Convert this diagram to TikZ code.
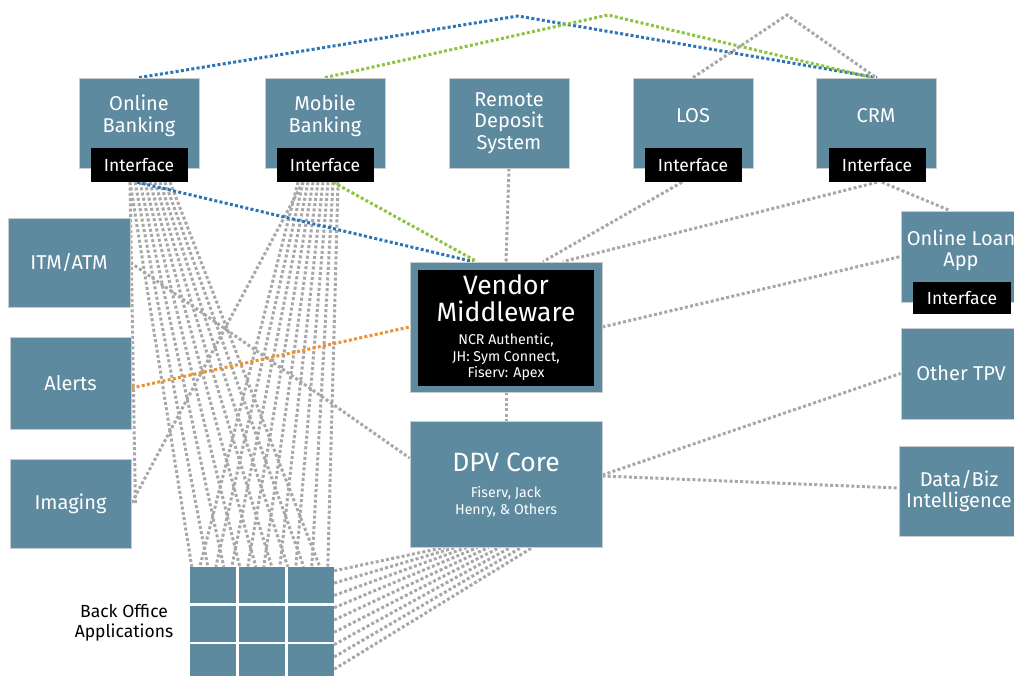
\documentclass[tikz,border=0pt]{standalone}
\usepackage{fontspec}
\setmainfont{Fira Sans}
\usetikzlibrary{calc,backgrounds}
\definecolor{teal1}{HTML}{5D8A9E}
\definecolor{boxedge}{HTML}{C8CDD0}
\definecolor{dotgray}{HTML}{A8A8A8}
\definecolor{dotblue}{HTML}{2E75B6}
\definecolor{dotgreen}{HTML}{8CC43F}
\definecolor{dotorange}{HTML}{EB9232}
\begin{document}
\begin{tikzpicture}[x=1pt,y=-1pt,
 box/.style={draw=boxedge,fill=teal1,line width=0.8pt,inner sep=0pt,text=white,align=center,font=\fontsize{20}{21.5}\selectfont},
 wtxt/.style={text=white,align=center,inner sep=0pt,font=\fontsize{20}{21.5}\selectfont},
 bigtxt/.style={text=white,align=center,inner sep=0pt,font=\fontsize{26.5}{27}\selectfont},
 smalltxt/.style={text=white,align=center,inner sep=0pt,font=\fontsize{14.2}{16.5}\selectfont},
 iface/.style={fill=black,text=white,inner sep=0pt,minimum width=97pt,minimum height=34pt,font=\fontsize{17.5}{19}\selectfont},
 cell/.style={fill=teal1,inner sep=0pt,minimum width=46pt,minimum height=36pt},
 dotline/.style={line width=3pt,dash pattern=on 3pt off 2.3pt},
 gl/.style={dotline,draw=dotgray},
 bl/.style={dotline,draw=dotblue},
 grl/.style={dotline,draw=dotgreen},
 ol/.style={dotline,draw=dotorange}]
\useasboundingbox (0,0) rectangle (1014,675);
\clip (0,0) rectangle (1014,675);

% top row
\node[box,minimum width=120pt,minimum height=90pt] (ob) at (139,123) {};
\node[wtxt] (obt) at (139,116) {Online\\Banking};
\node[iface] (obi) at (139,165) {Interface};
\node[box,minimum width=120pt,minimum height=90pt] (mb) at (325,123) {};
\node[wtxt] (mbt) at (325,116) {Mobile\\Banking};
\node[iface] (mbi) at (325,165) {Interface};
\node[box,minimum width=120pt,minimum height=90pt] (rd) at (509,123) {Remote\\Deposit\\System};
\node[box,minimum width=120pt,minimum height=90pt] (los) at (693,123) {};
\node[wtxt] (lost) at (693,116) {LOS};
\node[iface] (losi) at (693,165) {Interface};
\node[box,minimum width=120pt,minimum height=90pt] (crm) at (876,123) {};
\node[wtxt] (crmt) at (876,116) {CRM};
\node[iface] (crmi) at (877,165) {Interface};

% left column
\node[box,minimum width=122pt,minimum height=89pt] (itm) at (69,262.5) {ITM/ATM};
\node[box,minimum width=121pt,minimum height=92pt] (alr) at (70.5,383) {Alerts};
\node[box,minimum width=121pt,minimum height=89pt] (img) at (70.5,503.5) {Imaging};

% centre
\node[box,minimum width=192pt,minimum height=130pt] (vm) at (506,327) {};
\node[fill=black,inner sep=0pt,minimum width=176pt,minimum height=116pt] (vmi) at (506,328) {};
\node[bigtxt] (vmt) at (506,298) {Vendor\\Middleware};
\node[smalltxt] (vms) at (506,357) {NCR Authentic,\\JH: Sym Connect,\\Fiserv: Apex};
\node[box,minimum width=192pt,minimum height=126pt] (dpv) at (506,484) {};
\node[bigtxt] (dpvt) at (506,462) {DPV Core};
\node[smalltxt] (dpvs) at (506,502) {Fiserv, Jack\\Henry, \& Others};

% right column
\node[box,minimum width=120pt,minimum height=91pt] (ola) at (961,256.5) {};
\node[wtxt] (olat) at (961,250.5) {Online Loan\\App};
\node[iface,minimum width=98pt,minimum height=32pt] (olai) at (962,298) {Interface};
\node[box,minimum width=120pt,minimum height=91pt] (otpv) at (961,373.5) {Other TPV};
\node[box,minimum width=120pt,minimum height=90pt] (dbi) at (959,491) {Data/Biz\\Intelligence};

% back office grid
\node[inner sep=0pt,minimum width=144pt,minimum height=113pt] (bo) at (262,623.5) {};
\foreach \r/\yy in {1/585,2/623.5,3/662}{
  \foreach \c/\xx in {1/213,2/262,3/311}{
    \node[cell] (c\r\c) at (\xx,\yy) {};
  }
}
\node[align=center,inner sep=0pt,font=\fontsize{17.5}{20}\selectfont] (bol) at (124,623) {Back Office\\Applications};

\coordinate (pb) at (518,16);
\coordinate (pg) at (608,15);
\coordinate (pl) at (787,15);

\begin{scope}[on background layer]
  % top arcs
  \draw[bl] (ob.north) -- (pb) -- ([xshift=1pt]crm.north);
  \draw[grl] (mb.north) -- (pg) -- ([xshift=-4pt]crm.north);
  \draw[gl] (los.north) -- (pl) -- (crm.north);
  % fan to back office
  \foreach \i in {0,...,8}{
    \draw[gl] ([xshift={-9+5*\i}]obi.south) -- ([xshift={2+16*\i}]bo.north west);
    \draw[gl] ([xshift={-27+5*\i}]mbi.south) -- ([xshift={10+16*\i}]bo.north west);
    \draw[gl] ([yshift={-(4+12.3*\i)}]bo.north east) -- ([xshift={35+11*\i}]dpv.south west);
  }
  \draw[gl] ([xshift=-9pt]obi.south) -- ([xshift=4pt]img.east);
  \draw[gl] ([xshift=-22pt]mbi.south) -- (img.east);
  \draw[gl] (itm.east) -- ([yshift=26pt]dpv.west);
  \draw[ol] ([yshift=-5pt]alr.east) -- (vm.west);
  % to middleware
  \draw[bl] ([xshift=-2pt]obi.south) -- ([xshift=-33pt]vm.north);
  \draw[grl] ([xshift=8pt]mbi.south) -- ([xshift=-29pt]vm.north);
  \draw[gl] (rd.south) -- (vm.north);
  \draw[gl] ([xshift=-11pt]losi.south) -- ([xshift=37pt]vm.north);
  \draw[gl] (crmi.south) -- ([xshift=57pt]vm.north);
  \draw[gl] ([xshift=5pt]crmi.south) -- ([xshift=-11pt]ola.north);
  \draw[gl] (vm.east) -- (ola.west);
  \draw[gl] (vm.south) -- (dpv.north);
  \draw[gl] ([yshift=9pt]dpv.east) -- (otpv.west);
  \draw[gl] ([yshift=8pt]dpv.east) -- ([yshift=3pt]dbi.west);
\end{scope}
\end{tikzpicture}
\end{document}
